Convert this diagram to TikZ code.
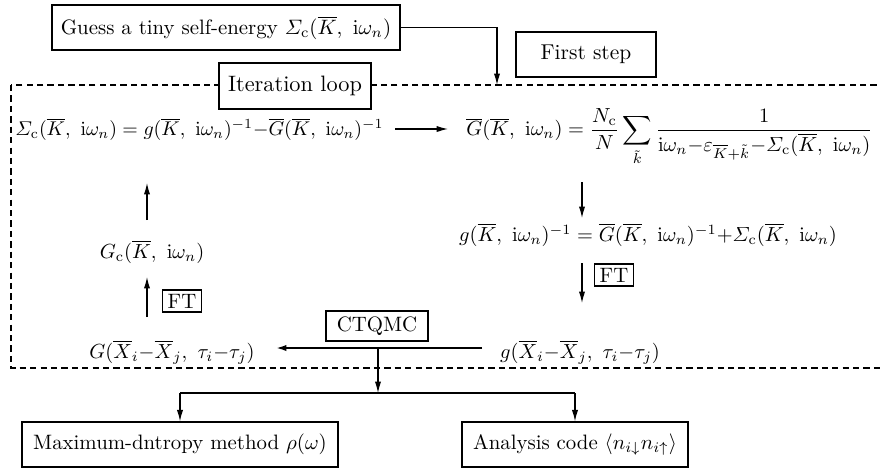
\documentclass[tikz,border=0pt]{standalone}
\usepackage{amsmath}
\usepackage{graphicx}
\usetikzlibrary{arrows.meta,calc}
\newcommand{\Kb}{\overline{K}}
\newcommand{\iw}{\mathrm{i}\omega_n}
\newcommand{\Sc}{\varSigma_{\mathrm{c}}}
\newcommand{\fml}[2][0.98]{\scalebox{#1}{$#2$}}
\begin{document}
\begin{tikzpicture}[x=0.48pt,y=-0.48pt,
  box/.style={draw,line width=0.6pt,inner sep=0pt,fill=white},
  arr/.style={-{Latex[length=5.5pt,width=3pt]},line width=0.55pt},
  plain/.style={line width=0.55pt},
  loopframe/.style={line width=0.55pt,dash pattern=on 3pt off 2pt},
  eq/.style={inner sep=0pt}]
\useasboundingbox (0,0) rectangle (880,470);

% iteration frame
\draw[loopframe] (11,85) rectangle (890,368);

% top boxes
\node[box,minimum width=167pt,minimum height=21.6pt] (guess) at (226,27.5)
  {Guess a tiny self-energy $\Sc(\Kb,\ \iw)$};
\node[box,minimum width=67.2pt,minimum height=21.6pt] (first) at (586,54.5)
  {\scalebox{1.03}{First step}};
\node[box,minimum width=73pt,minimum height=22pt] (iter) at (295,86)
  {\scalebox{1.07}{Iteration loop}};

% equations inside the loop
\node[eq,anchor=west] (sig) at (15,129)
  {\fml[0.955]{\Sc(\Kb,\ \iw)=g(\Kb,\ \iw)^{-1}{-}\overline{G}(\Kb,\ \iw)^{-1}}};
\node[eq,anchor=west] (gbar) at (466,137)
  {\fml{\displaystyle \overline{G}(\Kb,\ \iw)=\frac{N_{\mathrm{c}}}{N}\sum_{\tilde{k}}
   \frac{1}{\iw{-}\varepsilon_{\Kb+\tilde{k}}{-}\Sc(\Kb,\ \iw)}}};
\node[eq] (ginv) at (648,235)
  {\fml{g(\Kb,\ \iw)^{-1}=\overline{G}(\Kb,\ \iw)^{-1}{+}\Sc(\Kb,\ \iw)}};
\node[eq] (gx) at (580,352)
  {\fml{g(\overline{X}_i{-}\overline{X}_j,\ \tau_i{-}\tau_j)}};
\node[eq] (Gx) at (172,352)
  {\fml{G(\overline{X}_i{-}\overline{X}_j,\ \tau_i{-}\tau_j)}};
\node[eq] (Gc) at (152,252) {\fml{G_{\mathrm{c}}(\Kb,\ \iw)}};

\node[box,minimum width=18.5pt,minimum height=10.5pt] (ftr) at (614,275) {FT};
\node[box,minimum width=18.5pt,minimum height=10.5pt] (ftl) at (182,301) {FT};
\node[box,minimum width=49pt,minimum height=14.4pt] (ctqmc) at (377,326) {CTQMC};

% result boxes
\node[box,minimum width=151.7pt,minimum height=21.6pt] (mem) at (180,444.5)
  {Maximum-dntropy method $\rho(\omega)$};
\node[box,minimum width=108.5pt,minimum height=21.6pt] (ana) at (575,444.5)
  {Analysis code $\langle n_{i\downarrow}n_{i\uparrow}\rangle$};

% connectors
\coordinate (entry) at (497,85);
\draw[arr] (guess.east) -| (entry);
\coordinate (s1) at (395,129);
\coordinate (s2) at (448,129);
\draw[arr] (s1) -- (s2);
\coordinate (r1) at (582,182);
\coordinate (r2) at (582,218);
\draw[arr] (r1) -- (r2);
\coordinate (r3) at (582,263);
\coordinate (r4) at (582,303);
\draw[arr] (r3) -- (r4);
\coordinate (ctin) at (482,348);
\coordinate (ctout) at (275,348);
\draw[arr,line width=1.1pt] (ctin) -- (ctout);
\coordinate (l1) at (147,317);
\coordinate (l2) at (147,277);
\draw[arr] (l1) -- (l2);
\coordinate (l3) at (147,220);
\coordinate (l4) at (147,183);
\draw[arr] (l3) -- (l4);
\coordinate (drop) at (378,348);
\coordinate (split) at (378,393);
\draw[arr] (drop) -- (split);
\draw[plain] (split) -- (180,393);
\draw[plain] (split) -- (575,393);
\draw[arr] (180,393) -- (mem.north);
\draw[arr] (575,393) -- (ana.north);
\end{tikzpicture}
\end{document}
